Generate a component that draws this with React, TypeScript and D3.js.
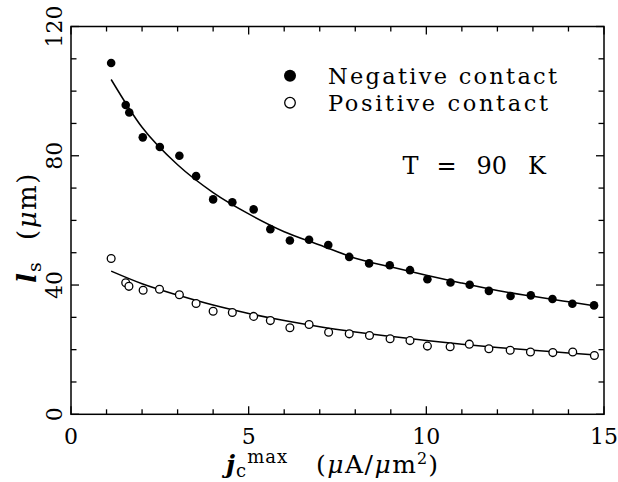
import React from "react";
import * as d3 from "d3";

// Measured points: critical current density j_c^max (μA/μm²) vs. length l_s (μm)
const jcNeg = [1.13, 1.54, 1.64, 2.02, 2.5, 3.05, 3.52, 4.0, 4.54, 5.14, 5.61, 6.16, 6.7, 7.24, 7.83, 8.39, 8.97, 9.54, 10.03, 10.68, 11.22, 11.76, 12.37, 12.94, 13.55, 14.11, 14.72];
const lsNeg = [108.7, 95.7, 93.4, 85.7, 82.7, 80.0, 73.7, 66.5, 65.6, 63.4, 57.3, 53.8, 54.0, 52.4, 48.7, 46.7, 46.1, 44.6, 41.8, 40.8, 40.1, 38.2, 36.6, 36.8, 35.7, 34.2, 33.7];

const jcPos = [1.13, 1.54, 1.63, 2.03, 2.49, 3.05, 3.52, 4.0, 4.54, 5.14, 5.61, 6.16, 6.7, 7.25, 7.83, 8.4, 8.98, 9.54, 10.03, 10.67, 11.21, 11.76, 12.36, 12.93, 13.56, 14.12, 14.73];
const lsPos = [48.2, 40.7, 39.6, 38.4, 38.7, 37.0, 34.3, 31.9, 31.5, 30.3, 29.0, 26.8, 27.8, 25.4, 24.9, 24.4, 23.4, 22.8, 21.1, 20.9, 21.7, 20.3, 19.8, 19.3, 19.1, 19.3, 18.2];

// Fitted curves, sampled along j_c
const fitJc = [1.13, 2, 3, 4, 5, 6, 7, 8, 9, 10, 11, 12, 13, 14, 14.72];
const fitNeg = [103.6, 88.8, 77.2, 68.6, 62.0, 56.5, 52.4, 48.3, 45.6, 43.0, 40.6, 38.3, 36.5, 34.8, 33.6];
const fitPos = [44.3, 40.4, 36.9, 33.8, 31.2, 29.0, 27.1, 25.5, 24.1, 22.8, 21.7, 20.7, 19.8, 19.0, 18.4];

const xTickLabels = [0, 5, 10, 15];
const yTickLabels = [0, 40, 80, 120];
const legendLabels = ["Negative contact", "Positive contact"];

const FONT = "'DejaVu Serif', serif";

export default function App() {
  const W = 618;
  const H = 482;
  const x = d3.scaleLinear().domain([0, 15]).range([71, 604]);
  const y = d3.scaleLinear().domain([0, 120]).range([414.3, 26.5]);
  const [x0, x1] = x.range();
  const [y0, y1] = y.range();

  const fitLine = d3
    .line<number>()
    .x((_, i) => x(fitJc[i]))
    .y((d) => y(d))
    .curve(d3.curveMonotoneX);
  const negPath = fitLine(fitNeg) as string;
  const posPath = fitLine(fitPos) as string;

  const xMinor = d3.range(0, 16, 1);
  const yMinor = d3.range(0, 121, 10);
  const stroke = "#000";

  return (
    <svg
      width={W}
      height={H}
      viewBox={`0 0 ${W} ${H}`}
      style={{ position: "absolute", left: 0, top: 0, background: "#fff" }}
      fontFamily={FONT}
    >
      <rect x={0} y={0} width={W} height={H} fill="#fff" />

      {/* ticks on all four sides, pointing inward */}
      <g stroke={stroke} strokeWidth={1.3}>
        {xMinor.map((v) => {
          const len = v % 5 === 0 ? 8 : 5;
          return (
            <g key={"xt" + v}>
              <line x1={x(v)} x2={x(v)} y1={y0} y2={y0 - len} />
              <line x1={x(v)} x2={x(v)} y1={y1} y2={y1 + len} />
            </g>
          );
        })}
        {yMinor.map((v) => {
          const len = v % 40 === 0 ? 8 : 5.5;
          return (
            <g key={"yt" + v}>
              <line x1={x0} x2={x0 + len} y1={y(v)} y2={y(v)} />
              <line x1={x1} x2={x1 - len} y1={y(v)} y2={y(v)} />
            </g>
          );
        })}
      </g>

      {/* frame */}
      <rect
        x={x0}
        y={y1}
        width={x1 - x0}
        height={y0 - y1}
        fill="none"
        stroke={stroke}
        strokeWidth={1.5}
      />

      {/* tick labels */}
      <g fontSize={22} fill="#000">
        {xTickLabels.map((v) => (
          <text key={"xl" + v} x={x(v)} y={444} textAnchor="middle">
            {v}
          </text>
        ))}
        {yTickLabels.map((v) => (
          <text
            key={"yl" + v}
            transform={`translate(62,${y(v)}) rotate(-90)`}
            textAnchor="middle"
          >
            {v}
          </text>
        ))}
      </g>

      {/* x axis title */}
      <text y={473} fontSize={25} fill="#000">
        <tspan x={226} fontStyle="italic" fontWeight="bold">j</tspan>
        <tspan fontSize={18} dy={4} dx={1}>c</tspan>
        <tspan fontSize={18} dy={-14} dx={1} letterSpacing={1}>max</tspan>
        <tspan x={316} dy={10} letterSpacing={1.5}>(</tspan>
        <tspan fontStyle="italic" letterSpacing={1.5}>μ</tspan>
        <tspan letterSpacing={1.5}>A/</tspan>
        <tspan fontStyle="italic" letterSpacing={1.5}>μ</tspan>
        <tspan>m</tspan>
        <tspan fontSize={16} dy={-9} dx={1}>2</tspan>
        <tspan dy={9} dx={1}>)</tspan>
      </text>

      {/* y axis title */}
      <text transform="translate(36,0) rotate(-90)" fontSize={26} fill="#000">
        <tspan x={-283} fontStyle="italic" fontWeight="bold">l</tspan>
        <tspan fontSize={19} dy={5} dx={1}>s</tspan>
        <tspan x={-240} dy={-5} letterSpacing={1.5}>(</tspan>
        <tspan fontStyle="italic" letterSpacing={1.5}>μ</tspan>
        <tspan letterSpacing={1.5}>m)</tspan>
      </text>

      {/* fitted curves */}
      <path d={negPath} fill="none" stroke={stroke} strokeWidth={1.5} />
      <path d={posPath} fill="none" stroke={stroke} strokeWidth={1.5} />

      {/* data points */}
      {jcNeg.map((v, i) => (
        <circle key={"n" + i} cx={x(v)} cy={y(lsNeg[i])} r={4.3} fill="#000" />
      ))}
      {jcPos.map((v, i) => (
        <circle
          key={"p" + i}
          cx={x(v)}
          cy={y(lsPos[i])}
          r={3.9}
          fill="#fff"
          stroke="#000"
          strokeWidth={1.3}
        />
      ))}

      {/* legend */}
      <circle cx={290} cy={75.7} r={6} fill="#000" />
      <circle cx={290} cy={102.7} r={5.3} fill="#fff" stroke="#000" strokeWidth={1.3} />
      <text x={328} y={83.5} fontSize={22.5} textLength={229} lengthAdjust="spacing" fill="#000">
        {legendLabels[0]}
      </text>
      <text x={328} y={110.5} fontSize={22.5} textLength={220} lengthAdjust="spacing" fill="#000">
        {legendLabels[1]}
      </text>

      {/* temperature annotation */}
      <text y={173.5} fontSize={24} fill="#000">
        <tspan x={402.5}>T</tspan>
        <tspan x={436.5}>=</tspan>
        <tspan x={476.5}>90</tspan>
        <tspan x={528}>K</tspan>
      </text>
    </svg>
  );
}
